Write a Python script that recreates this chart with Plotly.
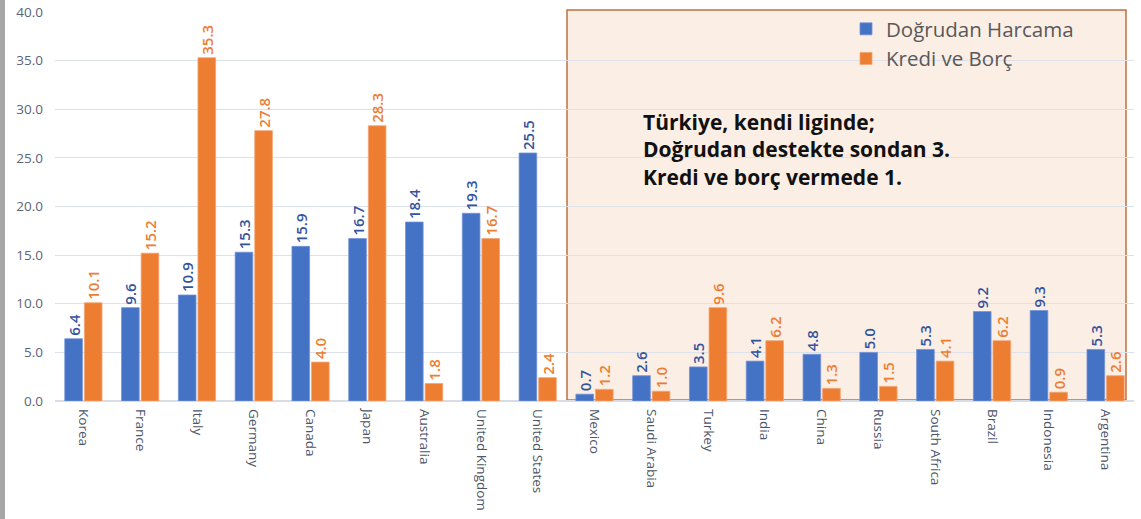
import plotly.graph_objects as go

categories = ["Korea", "France", "Italy", "Germany", "Canada", "Japan", "Australia",
              "United Kingdom", "United States", "Mexico", "Saudi Arabia", "Turkey",
              "India", "China", "Russia", "South Africa", "Brazil", "Indonesia", "Argentina"]
dogrudan = [6.4, 9.6, 10.9, 15.3, 15.9, 16.7, 18.4, 19.3, 25.5, 0.7, 2.6, 3.5,
            4.1, 4.8, 5.0, 5.3, 9.2, 9.3, 5.3]
kredi = [10.1, 15.2, 35.3, 27.8, 4.0, 28.3, 1.8, 16.7, 2.4, 1.2, 1.0, 9.6,
         6.2, 1.3, 1.5, 4.1, 6.2, 0.9, 2.6]
series_names = ["Doğrudan Harcama", "Kredi ve Borç"]
y_ticks = [0, 5, 10, 15, 20, 25, 30, 35, 40]
note_lines = ["Türkiye, kendi liginde;", "Doğrudan destekte sondan 3.", "Kredi ve borç vermede 1."]

FONT = "Open Sans"
W, H = 1141, 519
L, R, T, B = 55, 7, 12, 118
pw = W - L - R
ph = H - T - B

fig = go.Figure()
fig.add_trace(go.Bar(
    x=categories, y=dogrudan, name=series_names[0],
    marker=dict(color="#4472C4", line=dict(color="#7392D8", width=0.8)),
    text=[f"{v:.1f}" for v in dogrudan], textposition="outside", textangle=-90,
    textfont=dict(family=FONT, size=15, color="#34539E", weight=600),
    constraintext="none", cliponaxis=False,
))
fig.add_trace(go.Bar(
    x=categories, y=kredi, name=series_names[1],
    marker=dict(color="#ED7D31", line=dict(color="#F4A373", width=0.8)),
    text=[f"{v:.1f}" for v in kredi], textposition="outside", textangle=-90,
    textfont=dict(family=FONT, size=15, color="#ED7D31", weight=600),
    constraintext="none", cliponaxis=False,
))

def px_x(p):
    return (p - L) / pw

def px_y(p):
    return (H - B - p) / ph

# shaded highlight box
fig.add_shape(type="rect", xref="paper", yref="paper",
              x0=px_x(567), x1=px_x(1126), y0=px_y(400), y1=px_y(10),
              fillcolor="#FBEEE5", line=dict(color="#C0703F", width=1.5),
              layer="below")
# left grey strip
fig.add_shape(type="rect", xref="paper", yref="paper",
              x0=px_x(0), x1=px_x(5), y0=px_y(H), y1=px_y(0),
              fillcolor="#A6A6A6", line=dict(width=0), layer="above")

fig.add_annotation(xref="paper", yref="paper", x=px_x(641), y=px_y(149),
                   xanchor="left", yanchor="middle", align="left", showarrow=False,
                   text="<br>".join(f"<b>{line}</b>" for line in note_lines),
                   font=dict(family="Open Sans", size=21, color="#111111"))

fig.update_layout(
    width=W, height=H,
    margin=dict(l=L, r=R, t=T, b=B, autoexpand=False),
    paper_bgcolor="white", plot_bgcolor="rgba(0,0,0,0)",
    barmode="group", bargap=0.31, bargroupgap=0.1,
    font=dict(family=FONT, color="#595959"),
    legend=dict(x=px_x(846), y=px_y(9), xanchor="left", yanchor="top",
                font=dict(family=FONT, size=20.5, color="#595959"),
                bgcolor="rgba(0,0,0,0)", tracegroupgap=0),
    showlegend=True,
)
fig.update_yaxes(range=[0, 40], tickvals=y_ticks, ticktext=[f"{v:.1f}" for v in y_ticks],
                 showgrid=True, gridcolor="#DDE1EA", gridwidth=1,
                 zeroline=True, zerolinecolor="#D9DCE3", zerolinewidth=2,
                 tickfont=dict(family=FONT, size=13.5, color="#5B6478"), ticks="",
                 ticklabelstandoff=11, showline=False, automargin=False)
fig.update_xaxes(tickangle=90, tickfont=dict(family=FONT, size=13.5, color="#4D5669"),
                 ticklabelstandoff=7,
                 showgrid=False, showline=False, ticks="", automargin=False)

fig.write_html("out.html", config={"displayModeBar": False},
               post_script="document.body.style.margin='0';document.body.style.overflow='hidden';")
